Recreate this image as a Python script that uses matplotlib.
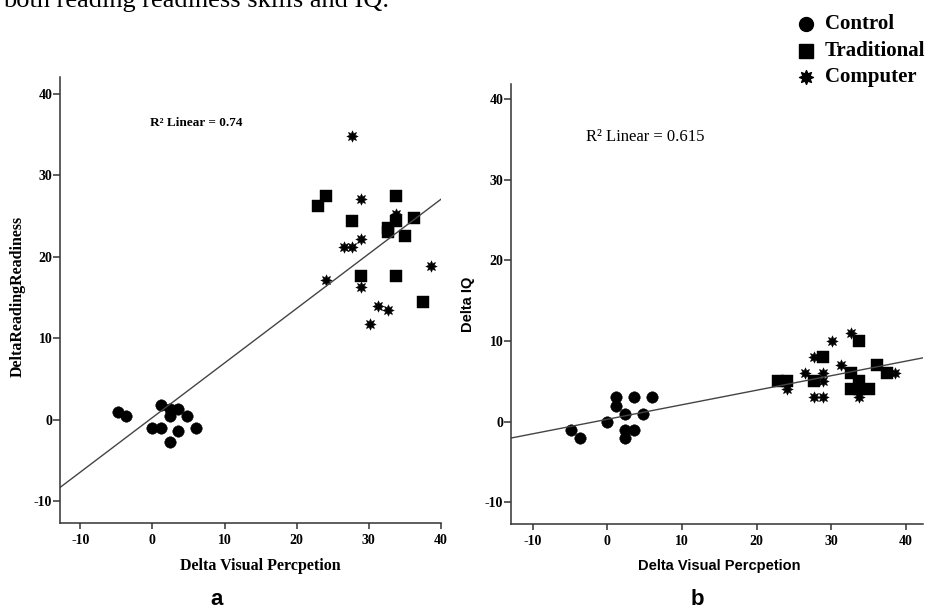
import matplotlib
matplotlib.use('Agg')
import matplotlib.pyplot as plt
from matplotlib.lines import Line2D
from matplotlib.path import Path
import numpy as np

plt.rcParams['font.family'] = ['Liberation Serif', 'DejaVu Serif']
plt.rcParams['axes.unicode_minus'] = False

# panel a: Delta Visual Percpetion vs DeltaReadingReadiness
a_ctrl_x = [-4.8, -3.6, 1.2, 2.4, 3.6, 2.4, 4.8, 0.0, 1.2, 3.6, 6.0, 2.4]
a_ctrl_y = [1.0, 0.5, 1.8, 1.3, 1.3, 0.4, 0.4, -1.0, -1.0, -1.4, -1.0, -2.8]
a_trad_x = [24.1, 22.9, 33.7, 27.7, 33.7, 36.2, 32.6, 32.6, 35.0, 28.9, 33.7, 37.5]
a_trad_y = [27.5, 26.2, 27.5, 24.4, 24.4, 24.8, 23.5, 23.0, 22.6, 17.7, 17.7, 14.4]
a_comp_x = [27.7, 28.9, 33.7, 28.9, 26.5, 27.7, 24.1, 28.9, 38.6, 31.3, 32.6, 30.1]
a_comp_y = [34.8, 27.1, 25.3, 22.2, 21.2, 21.2, 17.2, 16.3, 18.9, 14.0, 13.5, 11.8]

# panel b: Delta Visual Percpetion vs Delta IQ
b_ctrl_x = [-4.8, -3.6, 0.0, 1.2, 1.2, 2.4, 3.6, 4.8, 6.0, 2.4, 3.6, 2.4]
b_ctrl_y = [-1, -2, 0, 3, 2, 1, 3, 1, 3, -1, -1, -2]
b_trad_x = [33.7, 28.9, 36.2, 32.6, 37.5, 22.9, 24.1, 27.7, 33.7, 32.6, 33.7, 35.0]
b_trad_y = [10, 8, 7, 6, 6, 5, 5, 5, 5, 4, 4, 4]
b_comp_x = [32.6, 30.1, 27.7, 31.3, 26.5, 28.9, 28.9, 38.6, 24.1, 27.7, 28.9, 33.7]
b_comp_y = [11, 10, 8, 7, 6, 6, 5, 6, 4, 3, 3, 3]

groups = ['Control', 'Traditional', 'Computer']
ticks = [-10, 0, 10, 20, 30, 40]

# 8 pointed star like the spss "asterisk"
star = Path.unit_regular_star(8, innerCircle=0.55)
markers = ['o', 's', star]

W, H = 937, 610
fig = plt.figure(figsize=(W / 100, H / 100), dpi=100)


def px(x, y):
    return x / W, 1 - y / H


def draw_panel(ax, data, xlim, ylim):
    allx, ally = [], []
    for (xs, ys), m in zip(data, markers):
        ax.plot(xs, ys, ls='', marker=m, ms=8.3, color='black', mec='black', mew=0.3)
        allx += xs
        ally += ys
    k, b = np.polyfit(allx, ally, 1)
    lx = np.array(xlim)
    ax.plot(lx, k * lx + b, color='#444444', lw=1)
    ax.set_xlim(xlim)
    ax.set_ylim(ylim)
    ax.set_xticks(ticks)
    ax.set_yticks(ticks)
    for s in ['top', 'right']:
        ax.spines[s].set_visible(False)
    for s in ['left', 'bottom']:
        ax.spines[s].set_color('#333333')
        ax.spines[s].set_linewidth(1.1)
    ax.tick_params(axis='y', length=5, width=1.1, pad=0.5, color='#333333', labelsize=10)
    ax.tick_params(axis='x', length=4.5, width=1.1, pad=3.5, color='#333333', labelsize=10)
    for lab in ax.get_xticklabels() + ax.get_yticklabels():
        lab.set_fontweight('bold')


ax1 = fig.add_axes([60 / W, 1 - 523 / H, 381 / W, 446 / H])
draw_panel(ax1, [(a_ctrl_x, a_ctrl_y), (a_trad_x, a_trad_y), (a_comp_x, a_comp_y)],
           (-12.8, 40), (-12.7, 42.1))
ax1.set_xlabel('Delta Visual Percpetion', fontsize=11.5, fontweight='bold', va='center')
ax1.xaxis.set_label_coords(0.525, -0.0964)
ax1.set_ylabel('DeltaReadingReadiness', fontsize=11.5, fontweight='bold', va='center')
ax1.yaxis.set_label_coords(-0.110, 0.507)
ax1.text(0.358, 0.897, 'R² Linear = 0.74', transform=ax1.transAxes,
         ha='center', va='center', fontsize=9.5, fontweight='bold')

ax2 = fig.add_axes([511 / W, 1 - 524 / H, 412 / W, 440 / H])
draw_panel(ax2, [(b_ctrl_x, b_ctrl_y), (b_trad_x, b_trad_y), (b_comp_x, b_comp_y)],
           (-12.9, 42.3), (-12.7, 41.9))
ax2.set_xlabel('Delta Visual Percpetion', fontsize=10.5, fontweight='bold', va='center',
               family='Liberation Sans')
ax2.xaxis.set_label_coords(0.505, -0.0955)
ax2.set_ylabel('Delta IQ', fontsize=10.5, fontweight='bold', va='center',
               family='Liberation Sans')
ax2.yaxis.set_label_coords(-0.104, 0.50)
ax2.text(0.325, 0.8795, 'R² Linear = 0.615', transform=ax2.transAxes,
         ha='center', va='center', fontsize=12)

# legend, drawn by hand at the top right
for i, (g, m) in enumerate(zip(groups, markers)):
    yy = 24 + i * 26.5
    fig.add_artist(Line2D([px(806, yy)[0]], [px(806, yy)[1]], transform=fig.transFigure,
                          ls='', marker=m, ms=10, color='black'))
    fig.text(*px(825, yy), g, ha='left', va='center', fontsize=15, fontweight='bold')

# panel letters
fig.text(*px(217, 605), 'a', ha='center', va='baseline', fontsize=16, fontweight='bold',
         family='Liberation Sans')
fig.text(*px(697, 605), 'b', ha='center', va='baseline', fontsize=16, fontweight='bold',
         family='Liberation Sans')

# bit of the caption above, cut off by the crop
fig.text(*px(3, 7.5), 'both reading readiness skills and IQ.', ha='left', va='baseline',
         fontsize=19)

fig.savefig('out.png', dpi=100)
